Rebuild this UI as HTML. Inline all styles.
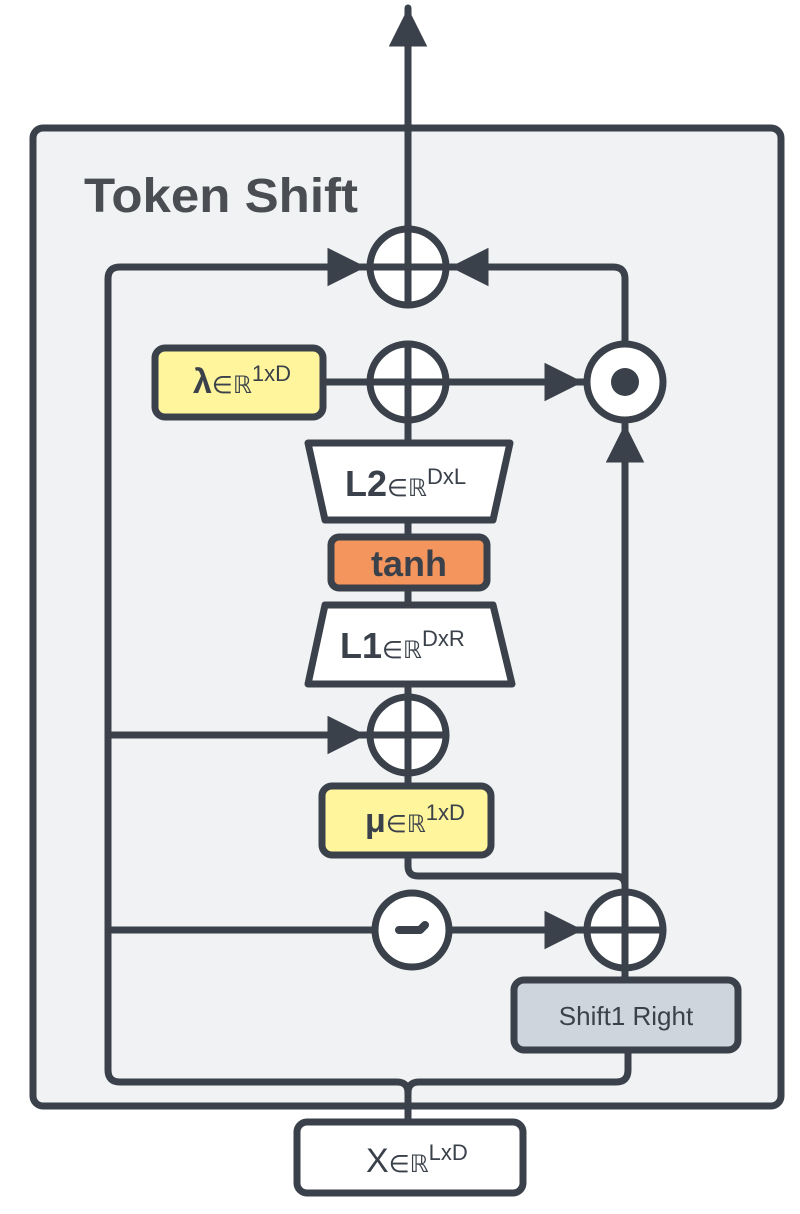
<!DOCTYPE html>
<html><head><style>
html,body{margin:0;padding:0;background:#fff;}
svg{display:block;}
text{font-family:"Liberation Sans","DejaVu Sans",sans-serif;fill:#3a414a;}
</style></head><body>
<svg width="800" height="1214" viewBox="0 0 800 1214" xmlns="http://www.w3.org/2000/svg">
<defs>
<marker id="a" viewBox="0 0 10 10" refX="10" refY="5" markerWidth="5.5" markerHeight="5.5" orient="auto" markerUnits="strokeWidth"><path d="M0,0 L10,5 L0,10 z" fill="#3a414a"/></marker>
</defs>
<g stroke="#3a414a" stroke-width="7" fill="none" stroke-linejoin="round" stroke-linecap="round">
<rect x="33" y="128" width="748" height="978" rx="10" fill="#f0f2f4"/>
<line x1="408" y1="230" x2="408" y2="8" marker-end="url(#a)"/>
<path d="M408,1122 L408,1093 Q408,1082 397,1082 L120,1082 Q108,1082 108,1070 L108,279 Q108,267 120,267 L366,267" marker-end="url(#a)"/>
<path d="M408,1093 Q408,1082 419,1082 L616,1082 Q628,1082 628,1070 L628,1050"/>
<path d="M625,345 L625,279 Q625,267 613,267 L450,267" marker-end="url(#a)"/>
<line x1="323" y1="382" x2="583" y2="382" marker-end="url(#a)"/>
<line x1="408" y1="419" x2="408" y2="443"/>
<line x1="408" y1="520" x2="408" y2="537"/>
<line x1="408" y1="588" x2="408" y2="605"/>
<line x1="408" y1="684" x2="408" y2="698"/>
<line x1="408" y1="772" x2="408" y2="786"/>
<line x1="108" y1="735" x2="366" y2="735" marker-end="url(#a)"/>
<path d="M408,855 L408,866 Q408,876 418,876 L615,876 Q625,876 625,886 L625,893"/>
<line x1="108" y1="930" x2="376" y2="930"/>
<line x1="450" y1="930" x2="583" y2="930" marker-end="url(#a)"/>
<line x1="625" y1="980" x2="625" y2="967"/>
<line x1="625" y1="893" x2="625" y2="424" marker-end="url(#a)"/>
<circle cx="408" cy="267" r="38" fill="#fff"/>
<line x1="408" y1="229" x2="408" y2="305"/><line x1="370" y1="267" x2="446" y2="267"/>
<circle cx="408" cy="382" r="38" fill="#fff"/>
<line x1="408" y1="344" x2="408" y2="420"/><line x1="370" y1="382" x2="446" y2="382"/>
<circle cx="625" cy="382" r="38" fill="#fff"/>
<circle cx="625" cy="382" r="14" fill="#3a414a" stroke="none"/>
<circle cx="408" cy="735" r="38" fill="#fff"/>
<line x1="408" y1="697" x2="408" y2="773"/><line x1="370" y1="735" x2="446" y2="735"/>
<circle cx="412" cy="930" r="37" fill="#fff"/>
<path d="M399,930 L420,930 L425,925" stroke-width="8"/>
<circle cx="625" cy="930" r="38" fill="#fff"/>
<line x1="625" y1="892" x2="625" y2="968"/><line x1="587" y1="930" x2="663" y2="930"/>
<rect x="155" y="348" width="168" height="69" rx="10" fill="#fff59d"/>
<path d="M308,443 L510,443 L493,520 L325,520 Z" fill="#fff"/>
<rect x="331" y="537" width="156" height="51" rx="8" fill="#f4955e"/>
<path d="M325,605 L493,605 L512,684 L308,684 Z" fill="#fff"/>
<rect x="322" y="786" width="169" height="69" rx="10" fill="#fff59d"/>
<rect x="514" y="980" width="224" height="70" rx="10" fill="#cfd5dd"/>
<rect x="297" y="1122" width="226" height="71" rx="10" fill="#fff"/>
</g>
<text x="84" y="212" font-size="48" font-weight="bold" style="fill:#4a4d52" textLength="274" lengthAdjust="spacingAndGlyphs">Token Shift</text>
<text x="193" y="393" font-size="34" font-weight="bold">λ<tspan font-size="24" font-weight="normal">∈ℝ</tspan><tspan font-size="22" font-weight="normal" dy="-12">1xD</tspan></text>
<text x="345" y="496" font-size="36" font-weight="bold">L2<tspan font-size="24" font-weight="normal">∈ℝ</tspan><tspan font-size="22" font-weight="normal" dy="-12">DxL</tspan></text>
<text x="409" y="576" font-size="36" font-weight="bold" text-anchor="middle">tanh</text>
<text x="340" y="658" font-size="36" font-weight="bold">L1<tspan font-size="24" font-weight="normal">∈ℝ</tspan><tspan font-size="22" font-weight="normal" dy="-12">DxR</tspan></text>
<text x="365" y="832" font-size="34" font-weight="bold">μ<tspan font-size="24" font-weight="normal">∈ℝ</tspan><tspan font-size="22" font-weight="normal" dy="-12">1xD</tspan></text>
<text x="626" y="1025" font-size="26" text-anchor="middle">Shift1 Right</text>
<text x="366" y="1172" font-size="34">X<tspan font-size="24">∈ℝ</tspan><tspan font-size="22" dy="-12">LxD</tspan></text>
</svg>
</body></html>
